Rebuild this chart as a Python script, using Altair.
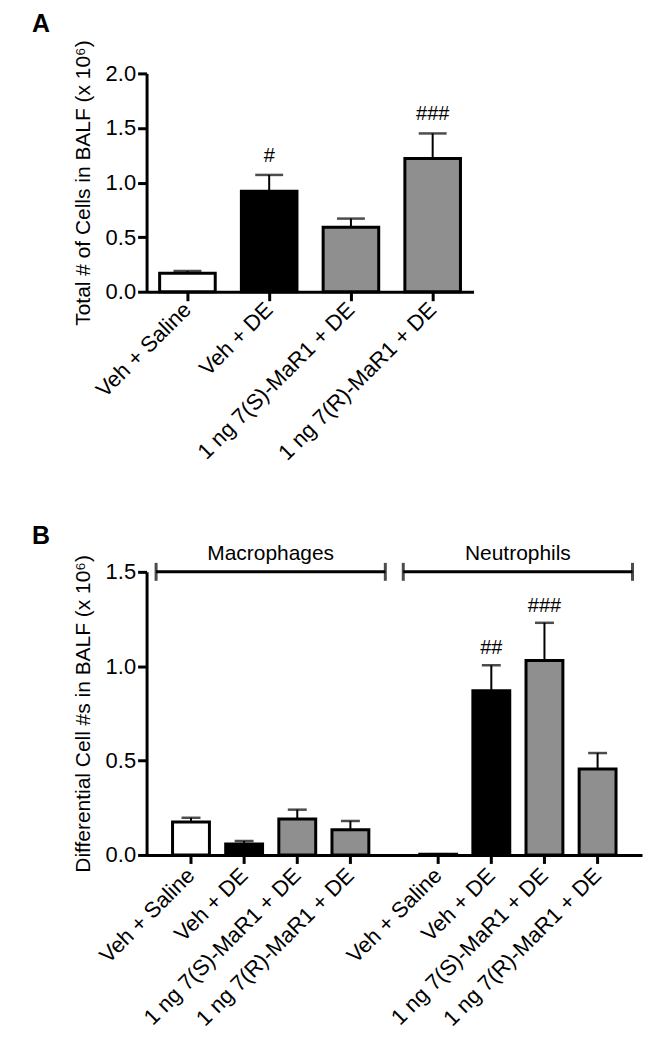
import altair as alt
import pandas as pd

FONT = "Liberation Sans"

# ---------------- data ----------------
treatments = ["Veh + Saline", "Veh + DE", "1 ng 7(S)-MaR1 + DE", "1 ng 7(R)-MaR1 + DE"]
bar_fills = ["white", "black", "#8f8f8f", "#8f8f8f"]

# Panel A: total cells (x 10^6)
a_mean = [0.17, 0.92, 0.59, 1.22]
a_upper = [0.19, 1.07, 0.67, 1.45]
a_sig = ["", "#", "", "###"]

# Panel B: differential cell counts (x 10^6)
cell_types = ["Macrophages", "Neutrophils"]
mac_mean = [0.175, 0.058, 0.19, 0.133]
mac_upper = [0.197, 0.074, 0.24, 0.18]
mac_sig = ["", "", "", ""]
neu_mean = [0.004, 0.87, 1.03, 0.455]
neu_upper = [0.004, 1.005, 1.23, 0.54]
neu_sig = ["", "##", "###", ""]

panel_letters = ["A", "B"]
a_title = "Total # of Cells in BALF (x 10\u2076)"
b_title = "Differential Cell #s in BALF (x 10\u2076)"

# ---------------- tables ----------------
dfA = pd.DataFrame({"groupA": treatments, "meanA": a_mean, "upA": a_upper,
                    "sigA": a_sig, "fillA": bar_fills})
rows = []
for ct, means, ups, sigs in [("Macrophages", mac_mean, mac_upper, mac_sig),
                             ("Neutrophils", neu_mean, neu_upper, neu_sig)]:
    for t, m, u, s, f in zip(treatments, means, ups, sigs, bar_fills):
        rows.append({"celltype": ct, "treat": t, "meanB": m, "upB": u, "sigB": s, "fillB": f})
dfB = pd.DataFrame(rows)
dfHead = pd.DataFrame({"celltype": cell_types})

A_W, A_H = 328, 219
B_W, B_H = 497, 284
LEFT_LETTER = -115

# ---------------- panel A ----------------
xA = alt.X("groupA:N", sort=treatments, title=None,
           scale=alt.Scale(paddingInner=0.32, paddingOuter=0.16),
           axis=alt.Axis(labelAngle=-45, labelAlign="right", labelBaseline="middle",
                         labelPadding=5, labelLimit=400))
yA = alt.Y("meanA:Q", title=a_title,
           scale=alt.Scale(domain=[0, 2], nice=False),
           axis=alt.Axis(values=[0, 0.5, 1.0, 1.5, 2.0], format=".1f", titlePadding=12))

baseA = alt.Chart(dfA)
barsA = baseA.mark_bar(stroke="black", strokeWidth=3).encode(
    x=xA, y=yA, fill=alt.Fill("fillA:N", scale=None))
errA = baseA.mark_rule(color="black", strokeWidth=2).encode(
    x=xA, y="meanA:Q", y2="upA:Q")
capA = baseA.mark_tick(color="black", thickness=2.5, size=28, orient="horizontal").encode(
    x=xA, y="upA:Q")
sigA = baseA.mark_text(fontSize=20, font=FONT, baseline="bottom", dy=-9, color="black").encode(
    x=xA, y="upA:Q", text="sigA:N")
letterA = alt.Chart(pd.DataFrame({"L": [panel_letters[0]]})).mark_text(
    fontSize=25, fontWeight="bold", font=FONT, align="left", baseline="alphabetic",
    color="black").encode(text="L:N", x=alt.value(LEFT_LETTER), y=alt.value(-42))

chartA = alt.layer(errA, barsA, capA, sigA, letterA).properties(width=A_W, height=A_H)

# ---------------- panel B ----------------
xB = alt.X("celltype:N", sort=cell_types, title=None,
           scale=alt.Scale(paddingInner=0.0726, paddingOuter=0.0385),
           axis=alt.Axis(labels=False, ticks=False, title=None))
xoB = alt.XOffset("treat:N", sort=treatments,
                  scale=alt.Scale(paddingInner=0.306, paddingOuter=0.31))
yB = alt.Y("meanB:Q", title=b_title,
           scale=alt.Scale(domain=[0, 1.5], nice=False),
           axis=alt.Axis(values=[0, 0.5, 1.0, 1.5], format=".1f", titlePadding=12))

baseB = alt.Chart(dfB)
barsB = baseB.mark_bar(stroke="black", strokeWidth=3).encode(
    x=xB, xOffset=xoB, y=yB, fill=alt.Fill("fillB:N", scale=None))
errB = baseB.mark_rule(color="black", strokeWidth=2).encode(
    x=xB, xOffset=xoB, y="meanB:Q", y2="upB:Q")
capB = baseB.mark_tick(color="black", thickness=2.5, size=19, orient="horizontal").encode(
    x=xB, xOffset=xoB, y="upB:Q")
sigB = baseB.mark_text(fontSize=20, font=FONT, baseline="bottom", dy=-7, color="black").encode(
    x=xB, xOffset=xoB, y="upB:Q", text="sigB:N")
ticksB = baseB.mark_rule(color="black", strokeWidth=3).encode(
    x=xB, xOffset=xoB, y=alt.value(B_H), y2=alt.value(B_H + 9))
labelsB = baseB.mark_text(fontSize=22, font=FONT, angle=315, align="right",
                          baseline="middle", color="black").encode(
    x=xB, xOffset=xoB, y=alt.value(B_H + 17), text="treat:N")

baseH = alt.Chart(dfHead)
bracket = baseH.mark_bar(fill=None, stroke="black", strokeWidth=3).encode(
    x=xB, y=alt.datum(1.5), y2=alt.datum(1.5))
capL = baseH.mark_tick(color="black", thickness=3, size=18, orient="vertical").encode(
    x=alt.X("celltype:N", sort=cell_types, bandPosition=0), y=alt.datum(1.5))
capR = baseH.mark_tick(color="black", thickness=3, size=18, orient="vertical").encode(
    x=alt.X("celltype:N", sort=cell_types, bandPosition=1), y=alt.datum(1.5))
headText = baseH.mark_text(fontSize=21, font=FONT, baseline="alphabetic", dy=-12,
                           color="black").encode(
    x=xB, y=alt.datum(1.5), text="celltype:N")
letterB = alt.Chart(pd.DataFrame({"L": [panel_letters[1]]})).mark_text(
    fontSize=25, fontWeight="bold", font=FONT, align="left", baseline="alphabetic",
    color="black").encode(text="L:N", x=alt.value(LEFT_LETTER), y=alt.value(-28))

chartB = alt.layer(errB, barsB, capB, sigB, ticksB, labelsB,
                   bracket, capL, capR, headText, letterB).properties(width=B_W, height=B_H)

chart = alt.vconcat(chartA, chartB, spacing=60).resolve_scale(
    x="independent", y="independent"
).properties(
    padding={"left": 24, "top": 2, "right": 5, "bottom": 5}
).configure(font=FONT).configure_view(stroke=None).configure_axis(
    labelFont=FONT, titleFont=FONT, labelFontSize=22, titleFontSize=21,
    labelColor="black", titleColor="black", titleFontWeight="normal",
    domainColor="black", tickColor="black", domainWidth=3, tickWidth=3,
    tickSize=9, grid=False
)

chart.save("out.html", embed_options={"renderer": "svg", "actions": False})
